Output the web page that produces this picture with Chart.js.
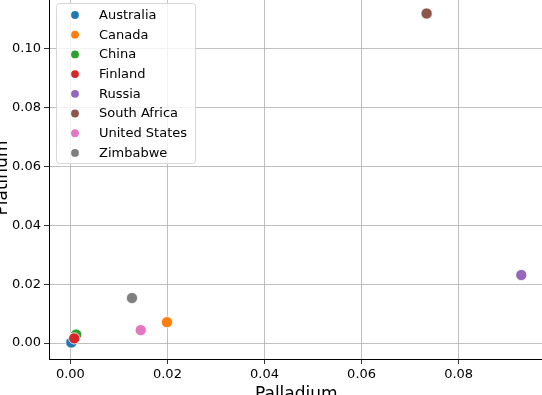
<!DOCTYPE html>
<html>
<head>
<meta charset="utf-8">
<script src="https://cdn.jsdelivr.net/npm/chart.js@4/dist/chart.umd.min.js"></script>
<style>
  html, body { margin: 0; padding: 0; background: #fff; overflow: hidden; }
  body { width: 542px; height: 395px; position: relative; }
  #c { position: absolute; left: -12px; top: -20px; }
</style>
</head>
<body>
<canvas id="c" width="562" height="429"></canvas>
<script>
// values
const countries = ["Australia", "Canada", "China", "Finland", "Russia", "South Africa", "United States", "Zimbabwe"];
const palladium = [0.0002, 0.0199, 0.0012, 0.0008, 0.0929, 0.0734, 0.0145, 0.0127];
const platinum = [0.0002, 0.0071, 0.0029, 0.0016, 0.0231, 0.1119, 0.0044, 0.0153];
const colors = ["#1f77b4", "#ff7f0e", "#2ca02c", "#d62728", "#9467bd", "#8c564b", "#e377c2", "#7f7f7f"];
const xTicks = [0.0, 0.02, 0.04, 0.06, 0.08];
const yTicks = [0.0, 0.02, 0.04, 0.06, 0.08, 0.10];

var datasets = [];
for (var i = 0; i < countries.length; i++) {
  datasets.push({
    label: countries[i],
    data: [{ x: palladium[i], y: platinum[i] }],
    backgroundColor: colors[i],
    borderColor: "#ffffff",
    borderWidth: 0.8,
    pointRadius: 5.6,
    pointHoverRadius: 5.6,
    order: countries.length - i, // later series on top, like matplotlib
  });
}

// legend box drawn inside the plot, upper left
const insideLegend = {
  id: "insideLegend",
  afterDraw(chart) {
    const ctx = chart.ctx;
    const a = chart.chartArea;
    const x0 = a.left + 7, y0 = a.top + 6;
    const w = 139, h = 160, r = 3;
    ctx.save();
    ctx.beginPath();
    ctx.roundRect(x0 + 0.5, y0 + 0.5, w, h, r);
    ctx.fillStyle = "rgba(255,255,255,0.8)";
    ctx.fill();
    ctx.strokeStyle = "#d6d6d6";
    ctx.lineWidth = 1;
    ctx.stroke();
    ctx.font = "13px 'DejaVu Sans'";
    ctx.textBaseline = "middle";
    for (var i = 0; i < countries.length; i++) {
      var yy = y0 + 12 + i * 19.7;
      ctx.beginPath();
      ctx.arc(x0 + 19, yy, 3.9, 0, Math.PI * 2);
      ctx.fillStyle = colors[i];
      ctx.fill();
      ctx.fillStyle = "#000";
      ctx.fillText(countries[i], x0 + 43, yy + 0.5);
    }
    ctx.restore();
  },
};

function tickFmt(v) { return v.toFixed(2); }

new Chart(document.getElementById("c"), {
  type: "scatter",
  data: { datasets: datasets },
  options: {
    responsive: false,
    animation: false,
    layout: { padding: { top: 17, right: 4, left: 0, bottom: 0 } },
    plugins: { legend: { display: false }, tooltip: { enabled: false } },
    scales: {
      x: {
        type: "linear",
        min: -0.0044,
        max: 0.0975,
        afterBuildTicks: function (s) { s.ticks = xTicks.map(function (v) { return { value: v }; }); },
        afterFit: function (s) { s.height = 50; },
        grid: { color: "#b0b0b0", lineWidth: 0.8, tickColor: "#000", tickLength: 5, tickWidth: 0.8 },
        border: { color: "#000", width: 1 },
        ticks: { color: "#000", padding: 3, font: { family: "DejaVu Sans", size: 13 }, callback: tickFmt, maxRotation: 0 },
        title: { display: true, text: "Palladium", color: "#000", font: { family: "DejaVu Sans", size: 17 }, padding: { top: 4, bottom: 4 } },
      },
      y: {
        type: "linear",
        min: -0.0054,
        max: 0.1175,
        afterBuildTicks: function (s) { s.ticks = yTicks.map(function (v) { return { value: v }; }); },
        afterFit: function (s) { s.width = 61; },
        grid: { color: "#b0b0b0", lineWidth: 0.8, tickColor: "#000", tickLength: 5, tickWidth: 0.8 },
        border: { color: "#000", width: 1 },
        ticks: { color: "#000", padding: 3, font: { family: "DejaVu Sans", size: 13 }, callback: tickFmt },
        title: { display: true, text: "Platinum", color: "#000", font: { family: "DejaVu Sans", size: 17 }, padding: { top: 4, bottom: 4 } },
      },
    },
  },
  plugins: [insideLegend],
});
</script>
</body>
</html>
